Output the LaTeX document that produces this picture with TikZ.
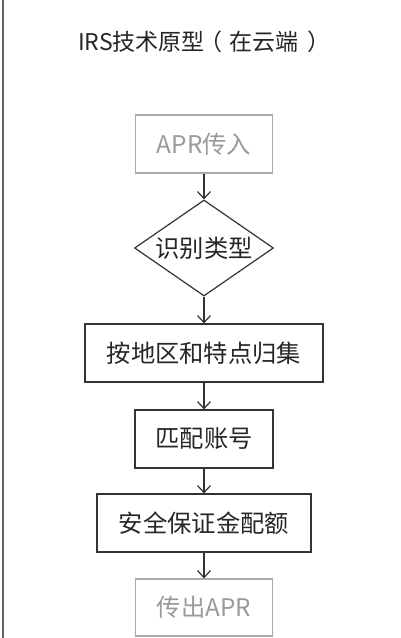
\documentclass[tikz,border=0pt]{standalone}
\usepackage{fontspec}
\setmainfont{Noto Sans CJK SC}
\usetikzlibrary{shapes.geometric,arrows.meta}
\definecolor{linedark}{HTML}{333333}
\definecolor{textdark}{HTML}{262626}
\definecolor{lightline}{HTML}{AAAAAA}
\definecolor{lighttext}{HTML}{9A9A9A}
\tikzset{
  stepbox/.style={draw=linedark, line width=1.2pt, rectangle, minimum height=58pt, inner sep=0pt,
    text=textdark, font=\fontsize{24.3pt}{27pt}\selectfont},
  fadedbox/.style={stepbox, draw=lightline, text=lighttext},
  decision/.style={draw=linedark, line width=1.2pt, diamond, aspect=1.45, inner sep=0pt,
    minimum width=139pt, minimum height=96pt, text=textdark, font=\fontsize{24.3pt}{27pt}\selectfont},
  flow/.style={draw=linedark, line width=1.2pt, -{Straight Barb[length=7pt,width=13pt,line width=1.2pt]}},
}
\begin{document}
\begin{tikzpicture}[x=1pt,y=1pt]
\useasboundingbox (0,0) rectangle (400,-638);
\fill[white] (0,0) rectangle (400,-638);
\draw[line width=1.6pt, draw=gray!80!black] (3,0) -- (3,-638);
\node[text=textdark, font=\fontsize{23pt}{26pt}\selectfont, anchor=west, inner sep=0pt] (title) at (78,-42) {IRS技术原型\hspace{-5pt}（\hspace{7pt}在云端\hspace{9pt}）};
\node[fadedbox, minimum width=137pt] (b1) at (204,-144) {APR传入};
\node[decision] (d1) at (204,-248) {识别类型};
\node[stepbox, minimum width=238pt] (b2) at (204,-353) {按地区和特点归集};
\node[stepbox, minimum width=138pt] (b3) at (204,-439) {匹配账号};
\node[stepbox, minimum width=214pt] (b4) at (204,-523) {安全保证金配额};
\node[fadedbox, minimum width=137pt, minimum height=57pt] (b5) at (204,-607.5) {传出APR};
\draw[flow] (b1.south) -- (d1.north);
\draw[flow] (d1.south) -- (b2.north);
\draw[flow] (b2.south) -- (b3.north);
\draw[flow] (b3.south) -- (b4.north);
\draw[flow] (b4.south) -- (b5.north);
\end{tikzpicture}
\end{document}
